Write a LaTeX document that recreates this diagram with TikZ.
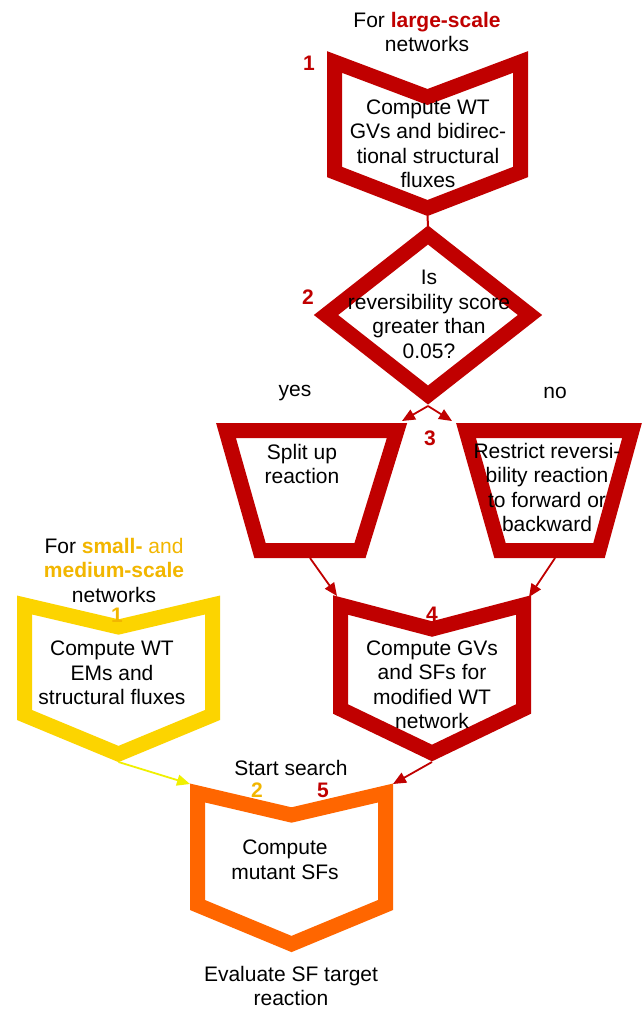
\documentclass[tikz,border=0pt]{standalone}
\usepackage{fontspec}
\setmainfont{Liberation Sans}
\usetikzlibrary{arrows.meta}
\definecolor{cred}{RGB}{192,0,0}
\definecolor{cgold}{RGB}{242,182,0}
\definecolor{cyel}{RGB}{252,212,0}
\definecolor{clemon}{RGB}{240,240,0}
\definecolor{corange}{RGB}{255,102,0}
\begin{document}
\begin{tikzpicture}[x=1pt,y=-1pt,
  shapeline/.style={line width=15pt, line join=miter},
  lbl/.style={font=\fontsize{21}{24.5}\selectfont, align=center, inner sep=0pt, text=black},
  num/.style={font=\fontsize{21}{24.5}\selectfont\bfseries, inner sep=0pt},
  conn/.style={line width=1.8pt, -{Triangle[length=13pt,width=11pt]}}]
\useasboundingbox[fill=white] (0,0) rectangle (642,1011);

% shape 1 (red chevron)
\coordinate (s1tl) at (334.5,62);
\coordinate (s1n)  at (427.5,97);
\coordinate (s1tr) at (520.5,62);
\coordinate (s1br) at (520.5,172);
\coordinate (s1b)  at (427.5,208);
\coordinate (s1bl) at (334.5,172);
\draw[shapeline,cred] (s1tl)--(s1n)--(s1tr)--(s1br)--(s1b)--(s1bl)--cycle;
\coordinate (s1out) at (427.5,216);

% diamond
\coordinate (dt) at (428,235);
\coordinate (dr) at (530,315);
\coordinate (db) at (428,395);
\coordinate (dl) at (326,315);
\draw[shapeline,cred] (dt)--(dr)--(db)--(dl)--cycle;
\coordinate (dtout) at (428,226);
\coordinate (dbout) at (428,406);

% left trapezoid
\coordinate (ltl) at (226,430.5);
\coordinate (ltr) at (397,430.5);
\coordinate (lbr) at (360,550.5);
\coordinate (lbl) at (260,550.5);
\draw[shapeline,cred] (ltl)--(ltr)--(lbr)--(lbl)--cycle;
\coordinate (ltin) at (402,421);
\coordinate (lbout) at (310,558);

% right trapezoid
\coordinate (rtl) at (466,430.5);
\coordinate (rtr) at (632,430.5);
\coordinate (rbr) at (599,550.5);
\coordinate (rbl) at (500,550.5);
\draw[shapeline,cred] (rtl)--(rtr)--(rbr)--(rbl)--cycle;
\coordinate (rtin) at (452,421);
\coordinate (rbout) at (555,558);

% shape 4 (red chevron)
\coordinate (s4tl) at (340.5,605);
\coordinate (s4n)  at (432,629);
\coordinate (s4tr) at (523.5,605);
\coordinate (s4br) at (523.5,709);
\coordinate (s4b)  at (432,753);
\coordinate (s4bl) at (340.5,709);
\draw[shapeline,cred] (s4tl)--(s4n)--(s4tr)--(s4br)--(s4b)--(s4bl)--cycle;
\coordinate (s4inl) at (337,596);
\coordinate (s4inr) at (529,597);
\coordinate (s4out) at (432,762);

% yellow chevron
\coordinate (ytl) at (24.5,605);
\coordinate (yn)  at (118.5,627);
\coordinate (ytr) at (212.5,605);
\coordinate (ybr) at (212.5,715);
\coordinate (yb)  at (118.5,754);
\coordinate (ybl) at (24.5,715);
\draw[shapeline,cyel] (ytl)--(yn)--(ytr)--(ybr)--(yb)--(ybl)--cycle;
\coordinate (yout) at (118.5,762);

% orange chevron
\coordinate (otl) at (197.5,793);
\coordinate (on)  at (291.5,815);
\coordinate (otr) at (385.5,793);
\coordinate (obr) at (385.5,905);
\coordinate (ob)  at (291.5,944);
\coordinate (obl) at (197.5,905);
\draw[shapeline,corange] (otl)--(on)--(otr)--(obr)--(ob)--(obl)--cycle;
\coordinate (oinl) at (190,784);
\coordinate (oinr) at (393,784);

% connectors
\draw[cred,line width=2pt] (s1out) -- (dtout);
\draw[conn,cred] (dbout) -- (ltin);
\draw[conn,cred] (dbout) -- (rtin);
\draw[conn,cred] (lbout) -- (s4inl);
\draw[conn,cred] (rbout) -- (s4inr);
\draw[conn,clemon] (yout) -- (oinl);
\draw[conn,cred] (s4out) -- (oinr);

% texts
\node[lbl] (hdr1) at (427,32) {For \textcolor{cred}{\textbf{large-scale}}\\networks};
\node[num,text=cred] (n1) at (309,63) {1};
\node[lbl] (t1) at (428,144) {Compute WT\\GVs and bidirec-\\tional structural\\fluxes};
\node[num,text=cred] (n2) at (308,297) {2};
\node[lbl] (t2) at (429,314.5) {Is\\reversibility score\\greater than\\0.05?};
\node[lbl] (yes) at (295,393) {yes};
\node[lbl] (no) at (555,393) {no};
\node[num,text=cred] (n3) at (430,438) {3};
\node[lbl] (t3) at (302,464) {Split up\\reaction};
\node[lbl] (t4) at (547,487.5) {Restrict reversi-\\bility reaction\\to forward or\\backward};
\node[lbl] (hdr2) at (114,570) {For \textcolor{cgold}{\textbf{small-} and}\\\textcolor{cgold}{\textbf{medium-scale}}\\networks};
\node[num,text=cgold] (n1y) at (117,615) {1};
\node[lbl] (t5) at (112,673) {Compute WT\\EMs and\\structural fluxes};
\node[num,text=cred] (n4) at (432,614) {4};
\node[lbl] (t6) at (432,685) {Compute GVs\\and SFs for\\modified WT\\network};
\node[lbl] (start) at (291,768) {Start search};
\node[num,text=cgold] (n2y) at (257,790) {2};
\node[num,text=cred] (n5) at (323,790) {5};
\node[lbl] (t7) at (285,860) {Compute\\mutant SFs};
\node[lbl] (t8) at (291,986) {Evaluate SF target\\reaction};
\end{tikzpicture}
\end{document}
